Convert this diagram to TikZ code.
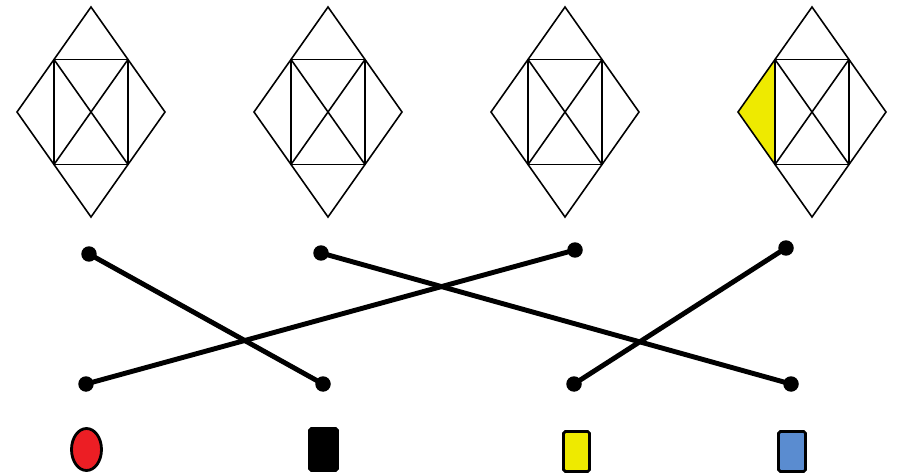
\documentclass[tikz,border=0pt]{standalone}
\usetikzlibrary{shapes.geometric}
\definecolor{pieceRed}{RGB}{236,30,36}
\definecolor{pieceYellow}{RGB}{238,234,0}
\definecolor{pieceBlue}{RGB}{90,140,208}
\begin{document}
\begin{tikzpicture}[x=0.02cm,y=-0.02cm,
  kite/.style={line width=0.9pt},
  dot/.style={circle,fill=black,inner sep=0pt,minimum size=0.31cm},
  link/.style={line width=2.8pt},
  piece/.style={draw=black,line width=1.6pt,inner sep=0pt,rounded corners=1pt}]
\useasboundingbox (0,0) rectangle (899,476);
% shaded part of the last kite
\fill[pieceYellow] (738,112) -- (775,59.5) -- (775,164.5) -- cycle;
% four kites
\foreach \c in {91,328,565,812}{
  \draw[kite] (\c,7) -- (\c+74,112) -- (\c,217) -- (\c-74,112) -- cycle;
  \draw[kite] (\c-37,59.5) rectangle (\c+37,164.5);
  \draw[kite] (\c-37,59.5) -- (\c+37,164.5);
  \draw[kite] (\c+37,59.5) -- (\c-37,164.5);
}
% dots
\node[dot] (t1) at (89,254) {};
\node[dot] (t2) at (321,253) {};
\node[dot] (t3) at (575,250) {};
\node[dot] (t4) at (786,248) {};
\node[dot] (b1) at (86,384) {};
\node[dot] (b2) at (323,384) {};
\node[dot] (b3) at (574,384) {};
\node[dot] (b4) at (791,384) {};
\draw[link] (t1.center) -- (b2.center);
\draw[link] (t2.center) -- (b4.center);
\draw[link] (t3.center) -- (b1.center);
\draw[link] (t4.center) -- (b3.center);
% pieces
\node[piece,ellipse,fill=pieceRed,minimum width=0.6cm,minimum height=0.84cm] (red) at (86.5,449.5) {};
\node[piece,fill=black,minimum width=0.56cm,minimum height=0.84cm] (black) at (323.5,449.5) {};
\node[piece,fill=pieceYellow,minimum width=0.52cm,minimum height=0.8cm] (yellow) at (576.5,451.5) {};
\node[piece,fill=pieceBlue,minimum width=0.54cm,minimum height=0.8cm] (blue) at (792,451.5) {};
\end{tikzpicture}
\end{document}
